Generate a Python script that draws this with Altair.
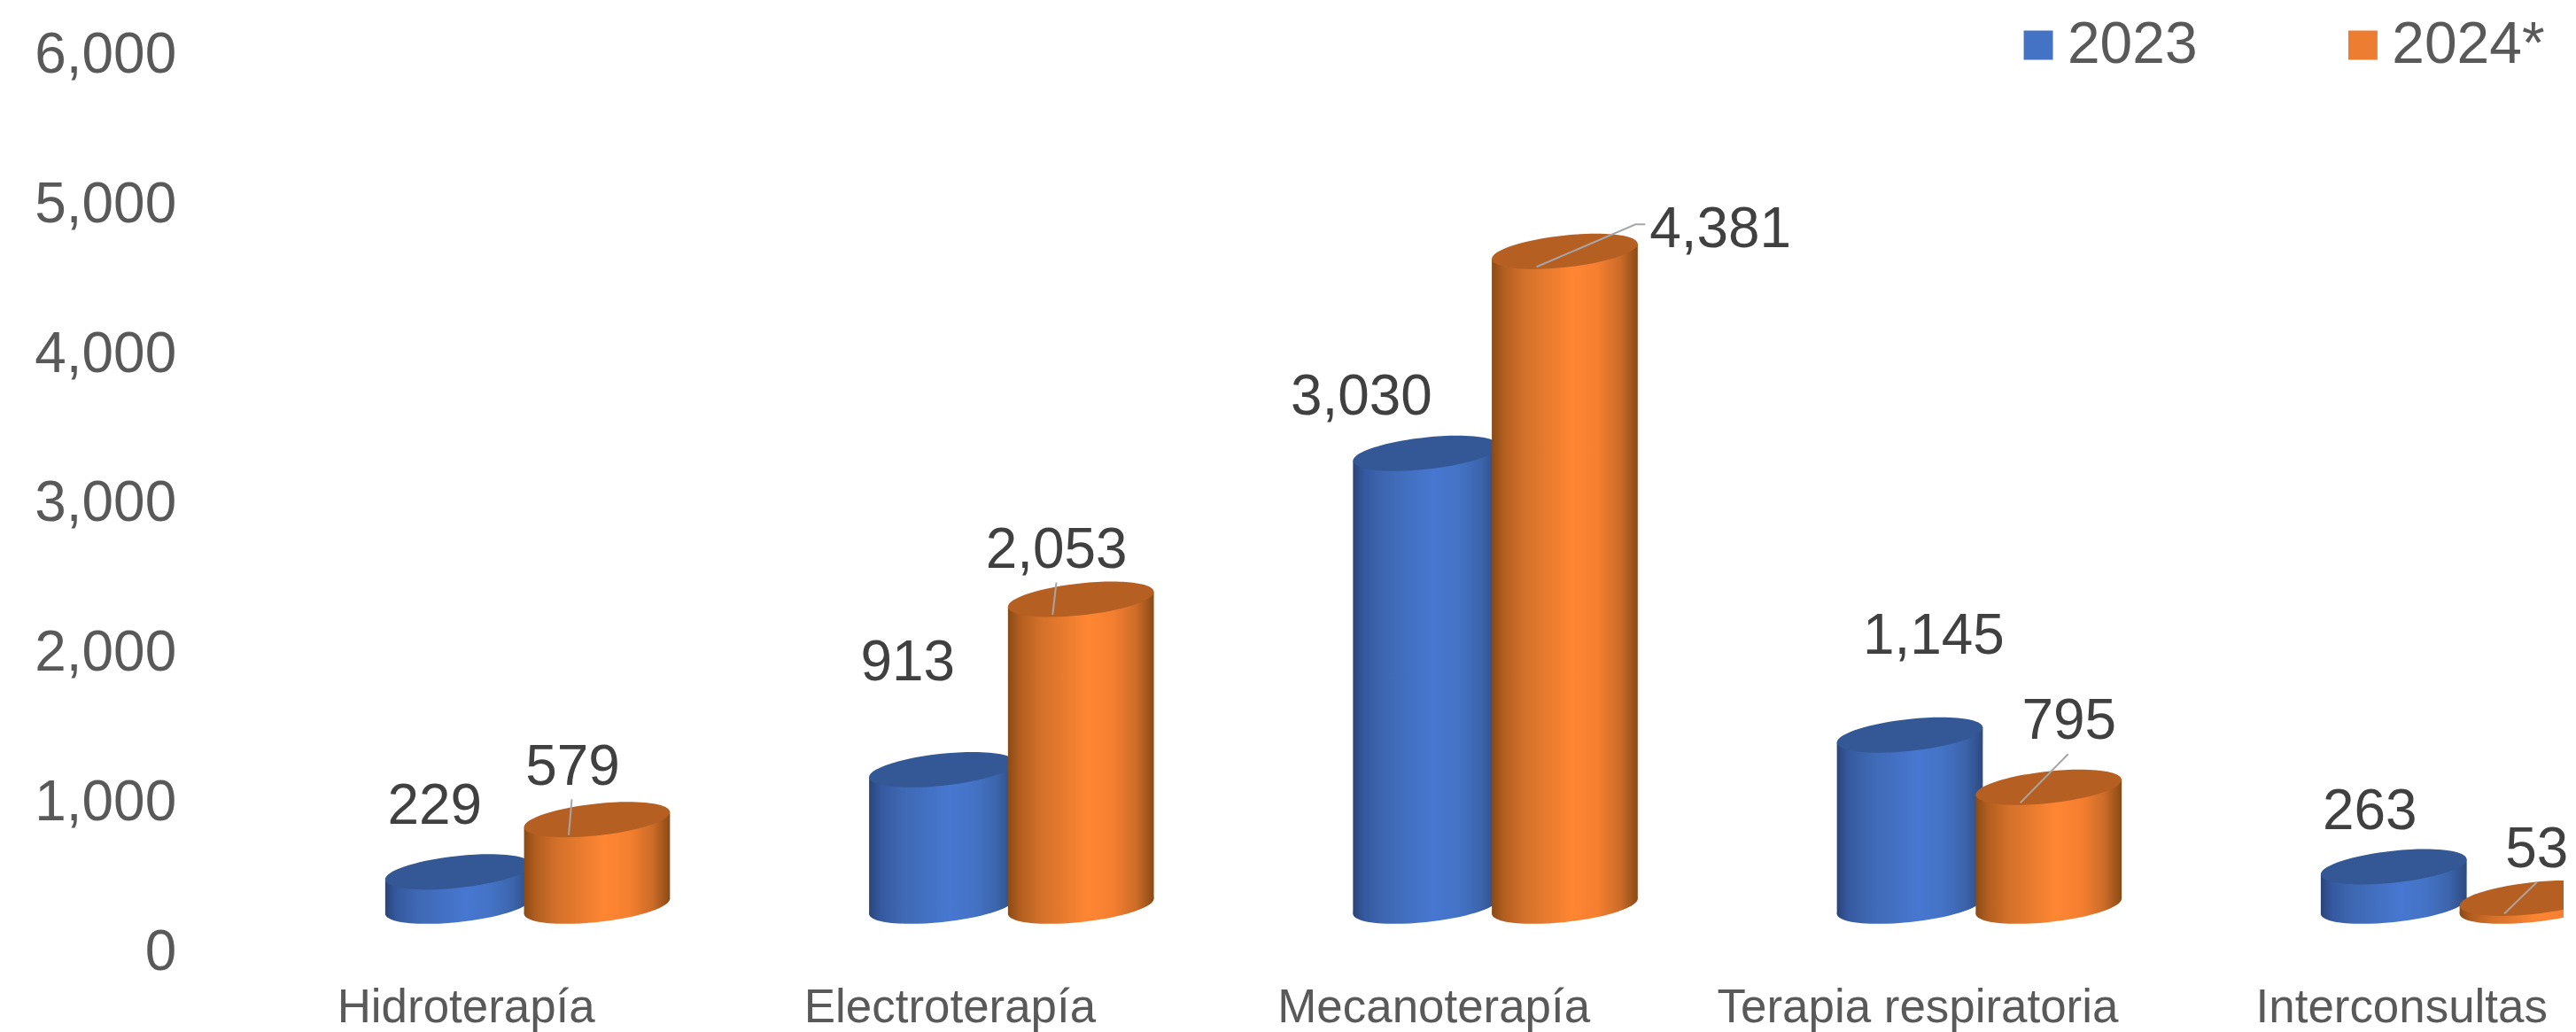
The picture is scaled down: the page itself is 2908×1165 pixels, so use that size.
import altair as alt
import pandas as pd

categories = ["Hidroterapía", "Electroterapía", "Mecanoterapía", "Terapia respiratoria", "Interconsultas"]
values_2023 = [229, 913, 3030, 1145, 263]
values_2024 = [579, 2053, 4381, 795, 53]
series_names = ["2023", "2024*"]
y_ticks = [0, 1000, 2000, 3000, 4000, 5000, 6000]

# manual label placement, pixels from the top centre of each cylinder
label_shift_2023 = [(-26.5, -77), (-38.7, -124), (-73, -67), (27, -114.5), (-27, -65.6)]
label_shift_2024 = [(-27.5, -62), (-27.7, -59), (176, -27.6), (23, -77.6), (4.7, -58)]
# leader lines of the 2024 labels, same reference
leader_points = [
    [(-28.5, -23), (-32, 17.5)],
    [(-27.7, -19), (-32, 17.5)],
    [(91, -30.6), (80, -30.6), (-32, 17.5)],
    [(22, -37.6), (-32, 17.5)],
    [(4.7, -18), (-32, 17.5)],
]

STEP = 547.2          # px per category
PX_PER_UNIT = 0.169   # px per value unit
PLOT_W = 2576
PLOT_H = 1014
HALF_W = 82.5 / STEP
PAIR = 78.5 / STEP
FLOOR = 292           # cylinders stand on a floor above the axis zero
SHEAR = 8.5 / PX_PER_UNIT


def ellipse_path(b=0.2194, s=0.103, k=0.5523):
    def p(u, v):
        return f"{u:.4f},{b * v - s * u:.4f}"
    return (
        f"M{p(1, 0)}C{p(1, k)} {p(k, 1)} {p(0, 1)}"
        f"C{p(-k, 1)} {p(-1, k)} {p(-1, 0)}"
        f"C{p(-1, -k)} {p(-k, -1)} {p(0, -1)}"
        f"C{p(k, -1)} {p(1, -k)} {p(1, 0)}Z"
    )


ELLIPSE = ellipse_path()


def grad(stops):
    return alt.Gradient(
        gradient="linear",
        stops=[alt.GradientStop(color=c, offset=o) for c, o in stops],
        x1=0, x2=1, y1=0, y2=0,
    )


blue_grad = grad([("#2A4478", 0), ("#3659A0", 0.08), ("#3E68B2", 0.22), ("#4777D0", 0.55),
                  ("#4473C6", 0.72), ("#3C64AB", 0.88), ("#2C4A80", 1)])
orange_grad = grad([("#8A4A15", 0), ("#B25E20", 0.08), ("#D2702A", 0.22), ("#FF8633", 0.55),
                    ("#F57F30", 0.72), ("#CC6C28", 0.88), ("#8A4A15", 1)])

rows, body, text_rows, leader_rows = [], [], [], []
for s, vals, sign, shifts in [
    (series_names[0], values_2023, -1, label_shift_2023),
    (series_names[1], values_2024, 1, label_shift_2024),
]:
    for i, (cat, v) in enumerate(zip(categories, vals)):
        c = i + 0.5 + sign * PAIR
        top = v + FLOOR
        rows.append(dict(series=s, cat=cat, v=v, c=c, base=FLOOR, top=top))
        body.append(dict(series=s, cat=cat, x=c - HALF_W, y=top - SHEAR, y2=FLOOR - SHEAR))
        body.append(dict(series=s, cat=cat, x=c + HALF_W, y=top + SHEAR, y2=FLOOR + SHEAR))
        dx, dy = shifts[i]
        text_rows.append(dict(series=s, label=f"{v:,}", x=c + dx / STEP, y=top - dy / PX_PER_UNIT))
        if s == series_names[1]:
            for j, (lx, ly) in enumerate(leader_points[i]):
                leader_rows.append(dict(cat=cat, o=j, x=c + lx / STEP, y=top - ly / PX_PER_UNIT))

rows, body, text_rows, leader_rows = map(pd.DataFrame, (rows, body, text_rows, leader_rows))

x_scale = alt.Scale(domain=[0, PLOT_W / STEP], zero=False, nice=False)
y_scale = alt.Scale(domain=[0, 6000], nice=False)
label_js = "[" + ",".join(f"'{c}'" for c in categories) + "][floor(datum.value)]"
x_axis = alt.Axis(
    values=[i + 0.5 for i in range(len(categories))], labelExpr=label_js,
    domain=False, ticks=False, grid=False, labelFontSize=53, labelColor="#595959",
    labelFont="Liberation Sans", labelPadding=39, labelOffset=-70, labelFlush=False,
    labelOverlap=False, labelBound=False, labelLimit=1000)
y_axis = alt.Axis(
    values=y_ticks, format=",.0f", domain=False, ticks=False, grid=False,
    labelFontSize=64, labelColor="#595959", labelFont="Liberation Sans", labelPadding=124,
    labelOffset=3, labelLimit=1000)
X = lambda f: alt.X(f, type="quantitative", scale=x_scale, title=None, axis=x_axis)
Y = lambda f: alt.Y(f, type="quantitative", scale=y_scale, title=None, axis=y_axis)

legend_layer = alt.Chart(rows).mark_square(size=0, opacity=1).encode(
    x=X("c"), y=Y("v"),
    color=alt.Color("series:N", scale=alt.Scale(domain=series_names, range=["#4472C4", "#ED7D31"]),
                    legend=alt.Legend(orient="none", legendX=1949, legendY=-42, direction="horizontal",
                                      columns=2, title=None, symbolType="square", symbolSize=1089,
                                      symbolOpacity=1, symbolStrokeWidth=0, labelFontSize=66,
                                      labelFont="Liberation Sans", labelColor="#595959", labelLimit=1000,
                                      labelOffset=0, columnPadding=154)),
)


def cylinder(name, gradient, top_color):
    r = rows[rows.series == name]
    b = body[body.series == name]
    base = alt.Chart(r).mark_point(shape=ELLIPSE, size=(2 * 82.5) ** 2, filled=True, fill=gradient,
                                   opacity=1, strokeWidth=0, clip=True).encode(x=X("c"), y=Y("base"))
    side = alt.Chart(b).mark_area(color=gradient, opacity=1, clip=True).encode(
        x=X("x"), y=Y("y"), y2=alt.Y2("y2"), detail="cat:N")
    cap = alt.Chart(r).mark_point(shape=ELLIPSE, size=(2 * 82.5) ** 2, filled=True, fill=top_color,
                                  opacity=1, strokeWidth=0, clip=True).encode(x=X("c"), y=Y("top"))
    return [base, side, cap]


leaders = alt.Chart(leader_rows).mark_line(color="#A6A6A6", strokeWidth=2, clip=True).encode(
    x=X("x"), y=Y("y"), detail="cat:N", order="o:Q")
labels = alt.Chart(text_rows).mark_text(fontSize=64, font="Liberation Sans", color="#404040",
                                        align="center", baseline="middle", dy=4).encode(
    x=X("x"), y=Y("y"), text="label:N")

chart = alt.layer(
    legend_layer,
    *cylinder(series_names[0], blue_grad, "#335895"),
    *cylinder(series_names[1], orange_grad, "#B55F22"),
    leaders, labels,
).properties(
    width=PLOT_W, height=PLOT_H, background="white",
    padding={"left": 30, "top": 9, "right": 0, "bottom": 0},
).configure_view(strokeWidth=0)

chart.save("out.html", embed_options={"renderer": "svg", "actions": False})
